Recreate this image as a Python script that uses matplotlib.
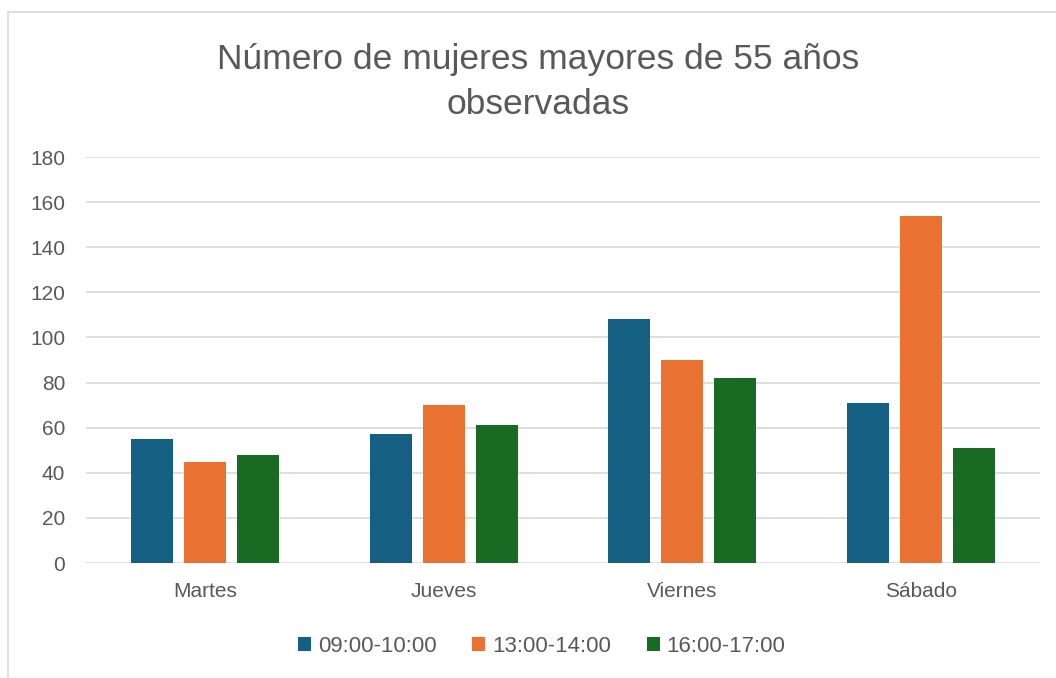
import numpy as np
import matplotlib.pyplot as plt
from matplotlib.patches import Rectangle

plt.rcParams['font.family'] = ['Liberation Sans', 'DejaVu Sans']

dias = ['Martes', 'Jueves', 'Viernes', 'Sábado']
franjas = ['09:00-10:00', '13:00-14:00', '16:00-17:00']
h_0910 = [55, 57, 108, 71]
h_1314 = [45, 70, 90, 154]
h_1617 = [48, 61, 82, 51]
colores = ['#156082', '#E97132', '#196B24']
gris = '#595959'

fig = plt.figure(figsize=(10.56, 6.78), dpi=100)
ax = fig.add_axes([0.0814, 0.1696, 0.9036, 0.5988])

# marco del gráfico
fig.patches.append(Rectangle((0.0076, -0.1), 1.1, 1.082, transform=fig.transFigure,
                             fill=False, edgecolor='#D9D9D9', linewidth=1.2))

x = np.arange(len(dias))
ancho = 0.176
paso = 0.222
for i, (serie, color) in enumerate(zip([h_0910, h_1314, h_1617], colores)):
    ax.bar(x + (i - 1) * paso, serie, width=ancho, color=color, label=franjas[i], zorder=3)

ax.set_xlim(-0.5, 3.5)
ax.set_ylim(0, 180)
ax.set_yticks(range(0, 181, 20))
ax.set_xticks(x)
ax.set_xticklabels(dias)
ax.grid(axis='y', color='#D9D9D9', linewidth=1.2, zorder=0)
for s in ax.spines.values():
    s.set_visible(False)
ax.tick_params(length=0, labelsize=15, colors=gris)
ax.tick_params(axis='x', pad=14)
ax.tick_params(axis='y', pad=15)

fig.text(0.510, 0.879, 'Número de mujeres mayores de 55 años\nobservadas',
         ha='center', va='center', fontsize=25.5, color=gris, linespacing=1.45)

fig.legend(loc='center', bbox_to_anchor=(0.513, 0.047), ncol=3, frameon=False,
           fontsize=16, labelcolor=gris, handlelength=0.6, handleheight=0.6,
           handletextpad=0.3, columnspacing=1.6)

fig.savefig('out.png', dpi=100)
